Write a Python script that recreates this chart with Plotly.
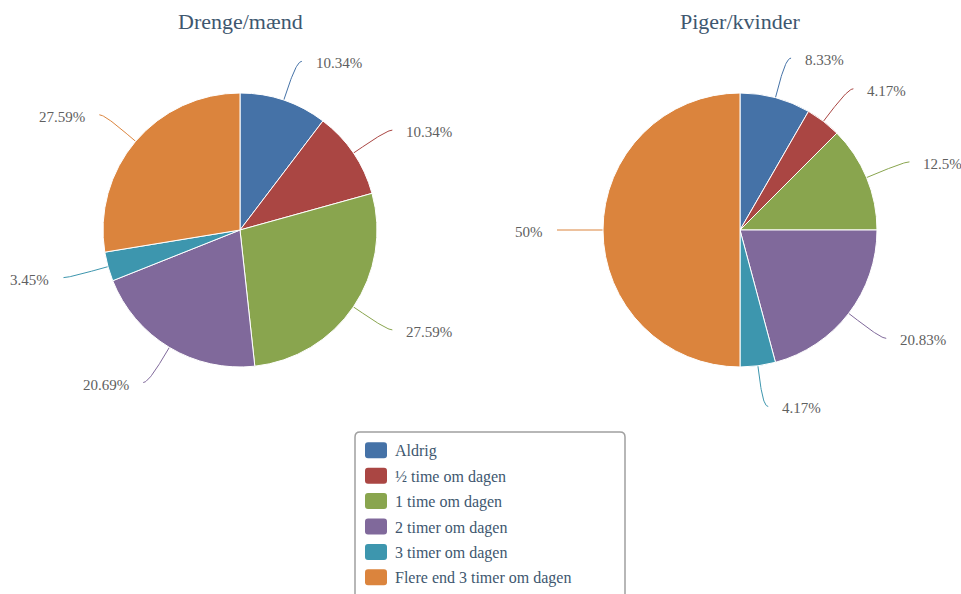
import numpy as np
import plotly.graph_objects as go

# survey answers, counts per group
categories = ["Aldrig", "½ time om dagen", "1 time om dagen", "2 timer om dagen",
              "3 timer om dagen", "Flere end 3 timer om dagen"]
drenge = [3, 3, 8, 6, 1, 8]
piger = [2, 1, 3, 5, 1, 12]
titles = ["Drenge/mænd", "Piger/kvinder"]
colors = ["#4572A7", "#AA4643", "#89A54E", "#80699B", "#3D96AE", "#DB843D"]

W, H = 961, 594
centers = [(240, 230), (740, 230)]
radius = 137
label_dist = 41
conn_off = 11
serif = "Liberation Serif"

fig = go.Figure()
annotations = []
shapes = []

for (cx, cy), vals, title in zip(centers, [drenge, piger], titles):
    fig.add_trace(go.Pie(
        labels=categories, values=vals, sort=False, direction="clockwise",
        rotation=0, textinfo="none", showlegend=False,
        marker=dict(colors=colors, line=dict(color="white", width=1)),
        domain=dict(x=[(cx - radius) / W, (cx + radius) / W],
                    y=[1 - (cy + radius) / H, 1 - (cy - radius) / H]),
    ))

    # label positions and curved connectors, highcharts style
    v = np.array(vals, dtype=float)
    frac = v / v.sum()
    mid = (np.cumsum(frac) - frac / 2) * 2 * np.pi
    for i, th in enumerate(mid):
        d = np.array([np.sin(th), -np.cos(th)])
        c = np.array([cx, cy])
        base = c + radius * d
        b2 = base + conn_off * d
        lab = c + (radius + label_dist) * d
        right = np.sin(th) >= 0
        p0 = np.array([lab[0] + (5 if right else -5), lab[1]])
        p1 = lab
        p2 = 2 * b2 - base
        p3 = b2
        t = np.linspace(0, 1, 25)[:, None]
        curve = ((1 - t) ** 3) * p0 + 3 * ((1 - t) ** 2) * t * p1 + 3 * (1 - t) * t ** 2 * p2 + t ** 3 * p3
        pts = np.vstack([curve, base])
        fig.add_trace(go.Scatter(
            x=pts[:, 0], y=pts[:, 1], mode="lines", hoverinfo="skip",
            line=dict(color=colors[i], width=1), showlegend=False,
        ))
        pct = round(frac[i] * 100, 2)
        annotations.append(dict(
            x=lab[0] + (17 if right else -17), y=lab[1] + 2, xref="x", yref="y",
            text=f"{pct:g}%", showarrow=False,
            xanchor="left" if right else "right", yanchor="middle",
            font=dict(family=serif, size=15, color="#606060"),
        ))

    annotations.append(dict(
        x=cx, y=21, xref="x", yref="y", text=title, showarrow=False,
        xanchor="center", yanchor="middle",
        font=dict(family=serif, size=22, color="#3E576F"),
    ))

# legend box (drawn by hand to get Highcharts look)
lx0, ly0, lx1, ly1, rr = 355, 432, 625, 615, 5
shapes.append(dict(
    type="path", xref="x", yref="y", layer="above",
    path=(f"M {lx0+rr},{ly0} L {lx1-rr},{ly0} Q {lx1},{ly0} {lx1},{ly0+rr} "
          f"L {lx1},{ly1} L {lx0},{ly1} L {lx0},{ly0+rr} Q {lx0},{ly0} {lx0+rr},{ly0} Z"),
    line=dict(color="#A0A0A0", width=1.5), fillcolor="rgba(255,255,255,0)",
))
for i, name in enumerate(categories):
    yc = 450.3 + i * 25.4
    sx0, sx1, sy0, sy1, sr = 365, 387, yc - 8, yc + 8, 3
    shapes.append(dict(
        type="path", xref="x", yref="y", layer="above",
        path=(f"M {sx0+sr},{sy0} L {sx1-sr},{sy0} Q {sx1},{sy0} {sx1},{sy0+sr} "
              f"L {sx1},{sy1-sr} Q {sx1},{sy1} {sx1-sr},{sy1} L {sx0+sr},{sy1} "
              f"Q {sx0},{sy1} {sx0},{sy1-sr} L {sx0},{sy0+sr} Q {sx0},{sy0} {sx0+sr},{sy0} Z"),
        line=dict(width=0), fillcolor=colors[i],
    ))
    annotations.append(dict(
        x=393, y=yc + 1, xref="x", yref="y", text=name, showarrow=False,
        xanchor="left", yanchor="middle",
        font=dict(family=serif, size=16, color="#3E576F"),
    ))

fig.update_layout(
    width=W, height=H,
    margin=dict(l=0, r=0, t=0, b=0),
    paper_bgcolor="white", plot_bgcolor="white",
    xaxis=dict(range=[0, W], visible=False, fixedrange=True),
    yaxis=dict(range=[H, 0], visible=False, fixedrange=True),
    annotations=annotations, shapes=shapes,
    showlegend=False,
)

# drop the default page margin so the figure fills the window exactly
fig.write_html("out.html", config={"displayModeBar": False},
               post_script="document.body.style.margin='0';document.body.style.overflow='hidden';")
